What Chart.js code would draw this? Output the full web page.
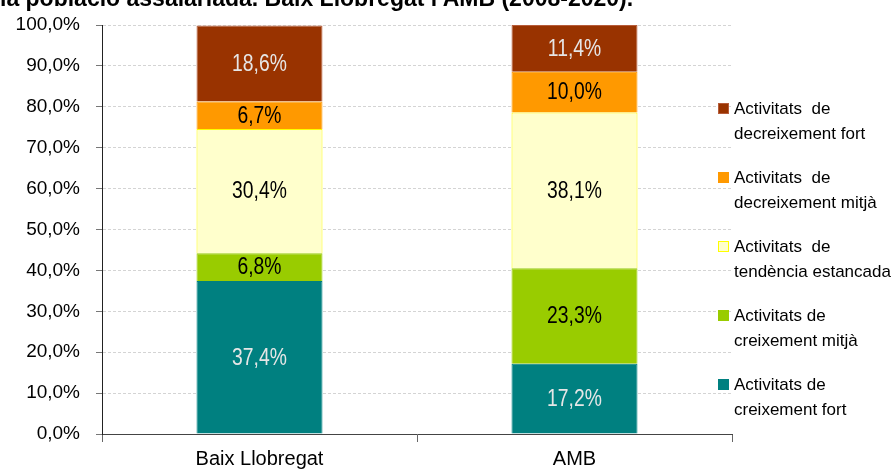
<!DOCTYPE html>
<html>
<head>
<meta charset="utf-8">
<script src="https://cdn.jsdelivr.net/npm/chart.js@4.4.1/dist/chart.umd.min.js"></script>
<style>
    body { margin: 0; background: #fff; }
    #wrap { position: relative; width: 896px; height: 472px; overflow: hidden; }
    #title { position: absolute; left: 0; top: -15px; font: bold 23px "Liberation Sans", Arial, sans-serif; color: #000; white-space: nowrap; }
    #legend { position: absolute; left: 718px; top: 96px; font: 17px "Liberation Sans", Arial, sans-serif; color: #000; }
    .item { position: relative; height: 69px; padding-left: 16px; white-space: pre; line-height: 25px; }
    .box { position: absolute; left: 0; top: 7px; width: 11px; height: 11px; box-sizing: border-box; }
</style>
</head>
<body>
<div id="wrap">
    <div id="title">la població assalariada. Baix Llobregat i AMB (2008-2020).</div>
    <canvas id="chart" width="896" height="472"></canvas>
    <div id="legend"></div>
</div>
<script>
    // dades
    var categories = ['Baix Llobregat', 'AMB'];
    var fortCreix = [37.4, 17.2];
    var mitjaCreix = [6.8, 23.3];
    var estancada = [30.4, 38.1];
    var mitjaDecreix = [6.7, 10.0];
    var fortDecreix = [18.6, 11.4];
    var yTicks = [0, 10, 20, 30, 40, 50, 60, 70, 80, 90, 100];

    var series = [
        { label: 'Activitats de\ncreixement fort', data: fortCreix, bg: '#008080', border: '#008080', text: '#e6e6e6' },
        { label: 'Activitats de\ncreixement mitjà', data: mitjaCreix, bg: '#99cc00', border: '#99cc00', text: '#000' },
        { label: 'Activitats  de\ntendència estancada', data: estancada, bg: '#ffffcc', border: '#ffff00', text: '#000' },
        { label: 'Activitats  de\ndecreixement mitjà', data: mitjaDecreix, bg: '#ff9900', border: '#ff9900', text: '#000' },
        { label: 'Activitats  de\ndecreixement fort', data: fortDecreix, bg: '#993300', border: '#b65c3a', text: '#e6e6e6' }
    ];

    var fmt = function (v) {
        return v.toFixed(1).replace('.', ',') + '%';
    };

    // etiquetes dins les barres (lletra estreta simulada)
    var barLabels = {
        id: 'barLabels',
        afterDatasetsDraw: function (chart) {
            var ctx = chart.ctx;
            chart.data.datasets.forEach(function (ds, i) {
                chart.getDatasetMeta(i).data.forEach(function (bar, j) {
                    ctx.save();
                    ctx.translate(bar.x, (bar.y + bar.base) / 2 + 1);
                    ctx.scale(0.84, 1);
                    ctx.font = '23px "Liberation Sans", Arial, sans-serif';
                    ctx.textAlign = 'center';
                    ctx.textBaseline = 'middle';
                    ctx.fillStyle = series[i].text;
                    ctx.fillText(fmt(ds.data[j]), 0, 0);
                    ctx.restore();
                });
            });
        }
    };

    Chart.defaults.font.family = '"Liberation Sans", Arial, sans-serif';
    Chart.defaults.color = '#000';

    var ctx = document.getElementById('chart').getContext('2d');
    window.myBar = new Chart(ctx, {
        type: 'bar',
        data: {
            labels: categories,
            datasets: series.map(function (s) {
                return {
                    label: s.label,
                    data: s.data,
                    backgroundColor: s.bg,
                    borderColor: s.border,
                    borderWidth: 1,
                    barPercentage: 0.4,
                    categoryPercentage: 1
                };
            })
        },
        options: {
            responsive: false,
            animation: false,
            layout: { padding: { left: 0, right: 164, top: 25, bottom: 0 } },
            plugins: {
                legend: { display: false },
                tooltip: { enabled: false }
            },
            scales: {
                x: {
                    stacked: true,
                    grid: { offset: true, drawOnChartArea: false, tickLength: 8, color: '#666' },
                    border: { color: '#444', width: 1 },
                    ticks: { font: { size: 20 }, padding: 5 },
                    afterFit: function (s) { s.height = 38; }
                },
                y: {
                    stacked: true,
                    min: 0,
                    max: 100,
                    afterBuildTicks: function (s) {
                        s.ticks = yTicks.map(function (v) { return { value: v }; });
                    },
                    grid: { color: '#d4d4d4', tickLength: 6, tickColor: '#777' },
                    border: { color: '#222', width: 1, dash: [3, 2] },
                    ticks: {
                        font: { size: 19 },
                        padding: 16,
                        callback: function (v) { return fmt(v); }
                    },
                    afterFit: function (s) {
                        s.width = 102;
                        s.paddingTop = 0;
                        s.paddingBottom = 0;
                    }
                }
            }
        },
        plugins: [barLabels]
    });

    // llegenda
    var legend = document.getElementById('legend');
    series.slice().reverse().forEach(function (s) {
        var item = document.createElement('div');
        item.className = 'item';
        var box = document.createElement('span');
        box.className = 'box';
        box.style.background = s.bg;
        box.style.border = '1px solid ' + s.border;
        item.appendChild(box);
        item.appendChild(document.createTextNode(s.label));
        legend.appendChild(item);
    });
</script>
</body>
</html>
